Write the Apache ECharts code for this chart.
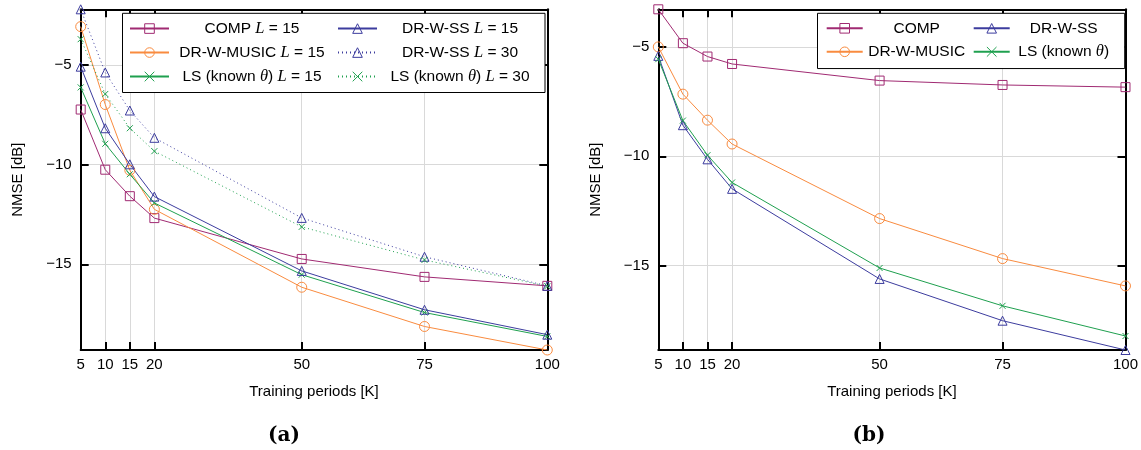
<!DOCTYPE html>
<html><head><meta charset="utf-8">
<script src="https://cdn.jsdelivr.net/npm/echarts@6/dist/echarts.min.js"></script>
<style>html,body{margin:0;padding:0;background:#fff}#c{width:1141px;height:450px}</style>
</head><body><div id="c"></div>
<script>
// ---- data ----
const periods = [5, 10, 15, 20, 50, 75, 100];
const xTicks = [5, 10, 15, 20, 50, 75, 100];
const yTicks = [-15, -10, -5];

// panel (a)
const aComp15  = [-7.23, -10.25, -11.58, -12.68, -14.73, -15.63, -16.08];
const aMusic15 = [-3.07, -6.98, -10.28, -12.24, -16.15, -18.12, -19.3];
const aSS15    = [-5.08, -8.17, -9.98, -11.6, -15.33, -17.28, -18.53];
const aSS30    = [-2.2, -5.37, -7.28, -8.65, -12.67, -14.62, -16.08];
const aLS15    = [-6.12, -8.95, -10.48, -11.92, -15.52, -17.42, -18.62];
const aLS30    = [-3.7, -6.45, -8.17, -9.32, -13.12, -14.78, -16.1];

// panel (b)
const bComp  = [-3.28, -4.83, -5.44, -5.78, -6.54, -6.74, -6.84];
const bMusic = [-5.0, -7.16, -8.35, -9.44, -12.85, -14.68, -15.93];
const bSS    = [-5.41, -8.58, -10.14, -11.49, -15.61, -17.52, -18.86];
const bLS    = [-5.56, -8.37, -9.95, -11.2, -15.11, -16.84, -18.22];

const yRangeA = [-19.3, -2.2];
const yRangeB = [-18.86, -3.28];

// ---- style ----
const FONT = '"Liberation Sans", Arial, sans-serif';
const C_COMP = '#a02a72', C_MUSIC = '#f98b3f', C_SS = '#3c3c9e', C_LS = '#1fa04f';
const CROSS = 'path://M0,0L10,10M0,10L10,0';

const legendRich = {
  'COMP L=15': '{t|COMP }{m|L}{t| = 15}',
  'DR-W-SS L=15': '{t|DR-W-SS }{m|L}{t| = 15}',
  'DR-W-MUSIC L=15': '{t|DR-W-MUSIC }{m|L}{t| = 15}',
  'DR-W-SS L=30': '{t|DR-W-SS }{m|L}{t| = 30}',
  'LS L=15': '{t|LS (known }{m|θ}{t|) }{m|L}{t| = 15}',
  'LS L=30': '{t|LS (known }{m|θ}{t|) }{m|L}{t| = 30}',
  'COMP': '{t|COMP}',
  'DR-W-SS': '{t|DR-W-SS}',
  'DR-W-MUSIC': '{t|DR-W-MUSIC}',
  'LS': '{t|LS (known }{m|θ}{t|)}'
};

function pairs(vals) { return periods.map((p, i) => [p, vals[i]]); }

function mkSeries(name, vals, color, symbol, size, dotted, axIdx) {
  return {
    type: 'line', name: name, data: pairs(vals),
    xAxisIndex: axIdx.x, yAxisIndex: axIdx.y,
    symbol: symbol, symbolSize: size,
    lineStyle: { color: color, width: 1, type: dotted ? [1, 3] : 'solid' },
    itemStyle: { color: 'rgba(0,0,0,0)', borderColor: color, borderWidth: 1 },
    emphasis: { disabled: true },
    z: 2
  };
}

const minus = v => (v < 0 ? '\u2212' + (-v) : String(v));

function xAx(grid, pos, main) {
  return {
    type: 'value', gridIndex: grid, position: pos, min: 5, max: 100,
    axisLine: { show: true, onZero: false, lineStyle: { color: '#000', width: 2 } },
    axisTick: { show: true, inside: true, length: 8, customValues: xTicks, lineStyle: { color: '#000', width: 2 } },
    axisLabel: { show: main, customValues: xTicks, margin: 7, fontSize: 15, fontFamily: FONT, color: '#000' },
    splitLine: { show: main, lineStyle: { color: '#d9d9d9', width: 1 } },
    name: main ? 'Training periods [K]' : '', nameLocation: 'middle', nameGap: 34,
    nameTextStyle: { fontSize: 15, fontFamily: FONT, color: '#000' }
  };
}
function yAx(grid, pos, main, range) {
  return {
    type: 'value', gridIndex: grid, position: pos, min: range[0], max: range[1],
    axisLine: { show: true, onZero: false, lineStyle: { color: '#000', width: 2 } },
    axisTick: { show: true, inside: true, length: 8, customValues: yTicks, lineStyle: { color: '#000', width: 2 } },
    axisLabel: { show: main, customValues: yTicks, margin: 9, fontSize: 15, fontFamily: FONT, color: '#000', formatter: minus },
    splitLine: { show: main, lineStyle: { color: '#d9d9d9', width: 1 } },
    name: main ? 'NMSE [dB]' : '', nameLocation: 'middle', nameGap: 55,
    nameTextStyle: { fontSize: 15, fontFamily: FONT, color: '#000' }
  };
}

function legendText(w) {
  return {
    width: w, fontSize: 15.5, fontFamily: FONT, color: '#000', lineHeight: 16.5,
    rich: {
      t: { align: 'center', fontSize: 15.5, fontFamily: FONT, color: '#000' },
      m: { align: 'center', fontSize: 16.5, fontFamily: '"Liberation Serif", serif', fontStyle: 'italic', color: '#000' }
    }
  };
}

const A = { x: 0, y: 0 }, B = { x: 2, y: 2 };

const option = {
  animation: false,
  backgroundColor: '#fff',
  grid: [
    { left: 80.7, right: 593.7, top: 9.3, bottom: 100 },
    { left: 658.3, right: 15.3, top: 9.3, bottom: 100 }
  ],
  xAxis: [xAx(0, 'bottom', true), xAx(0, 'top', false), xAx(1, 'bottom', true), xAx(1, 'top', false)],
  yAxis: [yAx(0, 'left', true, yRangeA), yAx(0, 'right', false, yRangeA),
          yAx(1, 'left', true, yRangeB), yAx(1, 'right', false, yRangeB)],
  title: [
    { text: '(a)', left: 279, top: 421, textAlign: 'center', textStyle: { fontFamily: '"DejaVu Serif", serif', fontWeight: 'bold', fontSize: 20, color: '#000' } },
    { text: '(b)', left: 864, top: 421, textAlign: 'center', textStyle: { fontFamily: '"DejaVu Serif", serif', fontWeight: 'bold', fontSize: 20, color: '#000' } }
  ],
  legend: [
    {
      data: ['COMP L=15', 'DR-W-SS L=15', 'DR-W-MUSIC L=15', 'DR-W-SS L=30', 'LS L=15', 'LS L=30'],
      orient: 'horizontal', left: 122.5, top: 13.3, width: 410,
      padding: [6.75, 7, 7.45, 6.5], itemGap: 7, itemWidth: 39, itemHeight: 12,
      backgroundColor: '#fff', borderColor: '#000', borderWidth: 1, borderRadius: 0,
      selectedMode: false,
      itemStyle: { borderWidth: 1 },
      formatter: n => legendRich[n],
      textStyle: legendText(156)
    },
    {
      data: ['COMP', 'DR-W-SS', 'DR-W-MUSIC', 'LS'],
      orient: 'horizontal', left: 817.5, top: 13.3, width: 320,
      padding: [6.75, 12, 8.25, 8.2], itemGap: 7, itemWidth: 36, itemHeight: 12,
      backgroundColor: '#fff', borderColor: '#000', borderWidth: 1, borderRadius: 0,
      selectedMode: false,
      itemStyle: { borderWidth: 1 },
      formatter: n => legendRich[n],
      textStyle: legendText(98)
    }
  ],
  series: [
    mkSeries('COMP L=15', aComp15, C_COMP, 'rect', 9, false, A),
    mkSeries('DR-W-MUSIC L=15', aMusic15, C_MUSIC, 'circle', 10, false, A),
    mkSeries('LS L=15', aLS15, C_LS, CROSS, 6, false, A),
    mkSeries('DR-W-SS L=15', aSS15, C_SS, 'triangle', 9, false, A),
    mkSeries('DR-W-SS L=30', aSS30, C_SS, 'triangle', 9, true, A),
    mkSeries('LS L=30', aLS30, C_LS, CROSS, 6, true, A),
    mkSeries('COMP', bComp, C_COMP, 'rect', 9, false, B),
    mkSeries('DR-W-MUSIC', bMusic, C_MUSIC, 'circle', 10, false, B),
    mkSeries('DR-W-SS', bSS, C_SS, 'triangle', 9, false, B),
    mkSeries('LS', bLS, C_LS, CROSS, 6, false, B)
  ]
};

const chart = echarts.init(document.getElementById('c'), null, { renderer: 'canvas' });
chart.setOption(option);
</script>
</body></html>
